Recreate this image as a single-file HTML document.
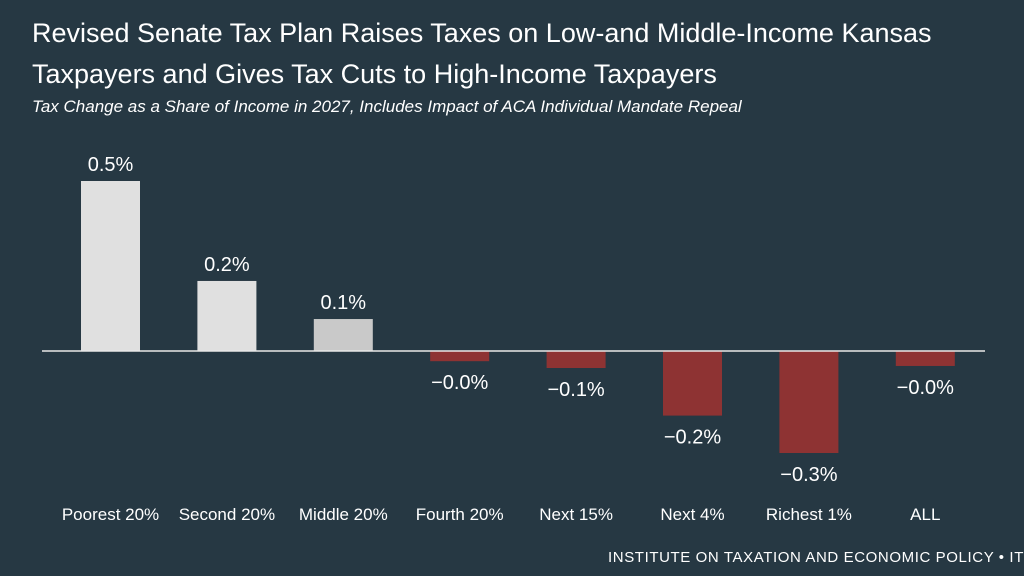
<!DOCTYPE html>
<html><head><meta charset="utf-8"><style>
body{margin:0;width:1024px;height:576px;background:#263843;overflow:hidden;font-family:"Liberation Sans Narrow","Liberation Sans",sans-serif;color:#fff}
svg{position:absolute;left:0;top:0}
</style></head><body>
<svg width="1024" height="576">
<text x="32" y="42" font-size="27" fill="#fff">Revised Senate Tax Plan Raises Taxes on Low-and Middle-Income Kansas</text>
<text x="32" y="83" font-size="27" fill="#fff">Taxpayers and Gives Tax Cuts to High-Income Taxpayers</text>
<text x="32" y="112" font-size="17" font-style="italic" fill="#fff">Tax Change as a Share of Income in 2027, Includes Impact of ACA Individual Mandate Repeal</text>
<g id="bars"></g>
<line x1="42" x2="985" y1="351" y2="351" stroke="#e8e8e8" stroke-width="1.5"/>
<text x="608" y="562" font-size="15" fill="#fff" letter-spacing="0.6">INSTITUTE ON TAXATION AND ECONOMIC POLICY • ITEP.ORG</text>
</svg>
<script>
const categories=["Poorest 20%","Second 20%","Middle 20%","Fourth 20%","Next 15%","Next 4%","Richest 1%","ALL"];
const values=[0.5,0.206,0.094,-0.03,-0.05,-0.19,-0.3,-0.044];
const labels=["0.5%","0.2%","0.1%","\u22120.0%","\u22120.1%","\u22120.2%","\u22120.3%","\u22120.0%"];
const base=351,scale=340,x0=110.5,step=116.4,bw=59;
const yS=v=>base-v*scale, xS=i=>x0+i*step;
const g=document.getElementById('bars'),NS="http://www.w3.org/2000/svg";
categories.forEach((c,i)=>{
 const v=values[i],y=yS(v);
 const r=document.createElementNS(NS,'rect');
 r.setAttribute('x',xS(i)-bw/2);r.setAttribute('width',bw);
 r.setAttribute('y',Math.min(y,base));r.setAttribute('height',Math.abs(base-y));
 r.setAttribute('fill',v>=0?(i==2?'#c9c9c9':'#e0e0e0'):'#8e3333');
 
 
 g.appendChild(r);
 const t=document.createElementNS(NS,'text');
 t.setAttribute('x',xS(i));t.setAttribute('y',v>=0?y-10:y+28);
 t.setAttribute('text-anchor','middle');t.setAttribute('font-size','20');t.setAttribute('fill','#fff');
 t.textContent=labels[i];
 
 
 g.appendChild(t);
 const l=document.createElementNS(NS,'text');
 l.setAttribute('x',xS(i));l.setAttribute('y',520);
 l.setAttribute('text-anchor','middle');l.setAttribute('font-size','17');l.setAttribute('fill','#fff');
 l.textContent=c;
 
 
 g.appendChild(l);
});
</script>
</body></html>
